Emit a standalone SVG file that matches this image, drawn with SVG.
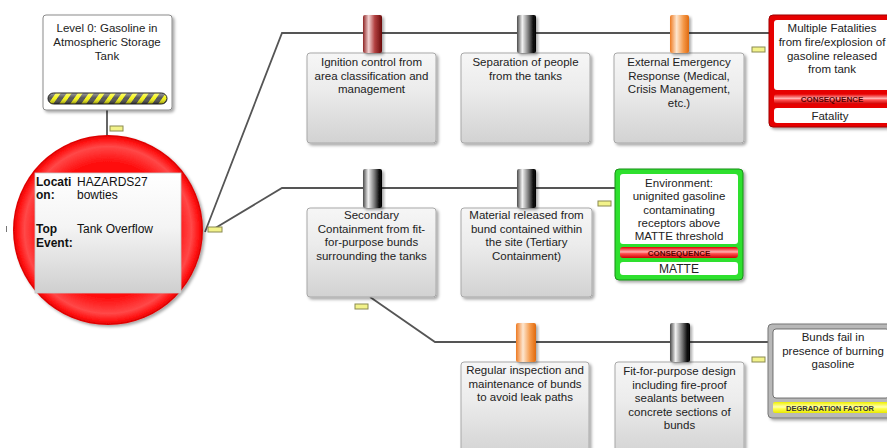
<svg xmlns="http://www.w3.org/2000/svg" width="887" height="448" viewBox="0 0 887 448">
<defs>
  <filter id="sh" x="-10%" y="-10%" width="130%" height="130%">
    <feDropShadow dx="2" dy="2" stdDeviation="1.5" flood-color="#000" flood-opacity="0.35"/>
  </filter>
  <linearGradient id="gBox" x1="0" y1="0" x2="0" y2="1">
    <stop offset="0" stop-color="#f6f6f6"/>
    <stop offset="0.4" stop-color="#ececec"/>
    <stop offset="1" stop-color="#d2d2d2"/>
  </linearGradient>
  <linearGradient id="gTop" x1="0" y1="0" x2="0" y2="1">
    <stop offset="0" stop-color="#ffffff"/>
    <stop offset="0.45" stop-color="#f4f4f4"/>
    <stop offset="1" stop-color="#cfcfcf"/>
  </linearGradient>
  <linearGradient id="cBlack" x1="0" y1="0" x2="1" y2="0">
    <stop offset="0" stop-color="#4a4a4a"/>
    <stop offset="0.28" stop-color="#f2f2f2"/>
    <stop offset="0.6" stop-color="#7a7a7a"/>
    <stop offset="0.85" stop-color="#111"/>
    <stop offset="1" stop-color="#000"/>
  </linearGradient>
  <linearGradient id="cRed" x1="0" y1="0" x2="1" y2="0">
    <stop offset="0" stop-color="#8e2424"/>
    <stop offset="0.3" stop-color="#f3d2d2"/>
    <stop offset="0.62" stop-color="#b24040"/>
    <stop offset="1" stop-color="#6a0c0c"/>
  </linearGradient>
  <linearGradient id="cOrange" x1="0" y1="0" x2="1" y2="0">
    <stop offset="0" stop-color="#ee7a22"/>
    <stop offset="0.35" stop-color="#fde6cf"/>
    <stop offset="0.7" stop-color="#f59a4a"/>
    <stop offset="1" stop-color="#e06a10"/>
  </linearGradient>
  <radialGradient id="gCircle" cx="0.5" cy="0.5" r="0.5">
    <stop offset="0" stop-color="#ff2020"/>
    <stop offset="0.7" stop-color="#ff0a0a"/>
    <stop offset="0.88" stop-color="#ff4848"/>
    <stop offset="0.96" stop-color="#ff1010"/>
    <stop offset="1" stop-color="#d80000"/>
  </radialGradient>
  <linearGradient id="gCons" x1="0" y1="0" x2="0" y2="1">
    <stop offset="0" stop-color="#e80000"/>
    <stop offset="0.45" stop-color="#ffb0b0"/>
    <stop offset="0.6" stop-color="#ff5050"/>
    <stop offset="1" stop-color="#d00000"/>
  </linearGradient>
  <linearGradient id="gDeg" x1="0" y1="0" x2="0" y2="1">
    <stop offset="0" stop-color="#f0f000"/>
    <stop offset="0.45" stop-color="#ffffb0"/>
    <stop offset="0.6" stop-color="#ffff50"/>
    <stop offset="1" stop-color="#e8e800"/>
  </linearGradient>
  <linearGradient id="gPill" x1="0" y1="0" x2="0" y2="1">
    <stop offset="0" stop-color="#fff" stop-opacity="0.5"/>
    <stop offset="0.45" stop-color="#fff" stop-opacity="0.1"/>
    <stop offset="1" stop-color="#000" stop-opacity="0.45"/>
  </linearGradient>
  <pattern id="stripes" patternUnits="userSpaceOnUse" width="11" height="12" patternTransform="skewX(-35)">
    <rect x="0" y="0" width="11" height="12" fill="#444"/>
    <rect x="0" y="0" width="5" height="12" fill="#f5f500"/>
  </pattern>
  <style>
    .t { font-family: "Liberation Sans", Arial, sans-serif; font-size: 11.5px; fill: #222; text-anchor: middle; }
    .tl { font-family: "Liberation Sans", Arial, sans-serif; font-size: 12px; fill: #111; }
    .b { font-weight: bold; }
    .bar { font-family: "Liberation Sans", Arial, sans-serif; font-size: 8px; font-weight: bold; text-anchor: middle; }
    .conn { fill: none; stroke: #555; stroke-width: 1.8; }
    .tag { fill: #f2f28a; stroke: #8a8a50; stroke-width: 1; }
    .barrier { fill: url(#gBox); stroke: #a8a8a8; stroke-width: 1; filter: url(#sh); }
  </style>
</defs>
<rect width="887" height="448" fill="#ffffff"/>

<g id="connectors">
  <line class="conn" x1="107" y1="110" x2="107" y2="138"/>
  <polyline class="conn" points="205,232 282,33 769,33"/>
  <polyline class="conn" points="212,230 282,188 615,188"/>
  <polyline class="conn" points="370,297 435,342 768,342"/>
  <rect class="tag" x="110" y="126" width="13" height="5"/>
  <rect class="tag" x="208" y="227" width="14" height="5"/>
  <rect class="tag" x="752" y="47" width="13" height="5"/>
  <rect class="tag" x="598" y="201" width="13" height="5"/>
  <rect class="tag" x="355" y="304" width="13" height="5"/>
  <rect class="tag" x="752" y="357" width="13" height="5"/>
  <line x1="6.5" y1="226" x2="6.5" y2="232" stroke="#777" stroke-width="1"/>
</g>

<g id="hazard">
  <rect x="43" y="15" width="129" height="95" rx="3" fill="#fff" stroke="#8a8a8a" stroke-width="1" filter="url(#sh)"/>
  <text class="t" x="107" y="32">Level 0: Gasoline in</text>
  <text class="t" x="107" y="46">Atmospheric Storage</text>
  <text class="t" x="107" y="59.5">Tank</text>
  <rect x="48" y="93" width="119" height="11" rx="5.5" fill="url(#stripes)"/>
  <rect x="48" y="93" width="119" height="11" rx="5.5" fill="url(#gPill)" stroke="#222" stroke-width="1"/>
</g>

<g id="top-event">
  <circle cx="108" cy="230" r="95" fill="url(#gCircle)" filter="url(#sh)"/>
  <rect x="35" y="173" width="146" height="120" fill="url(#gTop)" stroke="#c8c8c8" stroke-width="0.8"/>
  <text class="tl b" x="36" y="186">Locati</text>
  <text class="tl b" x="36" y="199">on:</text>
  <text class="tl" x="77" y="186">HAZARDS27</text>
  <text class="tl" x="77" y="199">bowties</text>
  <text class="tl b" x="36" y="233">Top</text>
  <text class="tl b" x="36" y="247">Event:</text>
  <text class="tl" x="77" y="233">Tank Overflow</text>
</g>

<g id="barrier-ignition">
  <rect class="barrier" x="307" y="53" width="129" height="90" rx="3"/>
  <rect x="363" y="15" width="19" height="38" rx="2" fill="url(#cRed)" filter="url(#sh)"/>
  <text class="t" x="371.5" y="66">Ignition control from</text>
  <text class="t" x="371.5" y="79.5">area classification and</text>
  <text class="t" x="371.5" y="93">management</text>
</g>

<g id="barrier-separation">
  <rect class="barrier" x="461" y="53" width="129" height="90" rx="3"/>
  <rect x="517" y="15" width="19" height="38" rx="2" fill="url(#cBlack)" filter="url(#sh)"/>
  <text class="t" x="525.5" y="66">Separation of people</text>
  <text class="t" x="525.5" y="79.5">from the tanks</text>
</g>

<g id="barrier-emergency">
  <rect class="barrier" x="614" y="53" width="130" height="90" rx="3"/>
  <rect x="670" y="15" width="19" height="38" rx="2" fill="url(#cOrange)" filter="url(#sh)"/>
  <text class="t" x="679" y="66">External Emergency</text>
  <text class="t" x="679" y="79.5">Response (Medical,</text>
  <text class="t" x="679" y="93">Crisis Management,</text>
  <text class="t" x="679" y="106.5">etc.)</text>
</g>

<g id="consequence-fatality">
  <rect x="769" y="15" width="126" height="112" rx="4" fill="#e60000" stroke="#a00000" stroke-width="1" filter="url(#sh)"/>
  <rect x="774" y="20" width="116" height="70" rx="3" fill="#fff"/>
  <text class="t" x="832" y="32">Multiple Fatalities</text>
  <text class="t" x="832" y="46">from fire/explosion of</text>
  <text class="t" x="832" y="59.5">gasoline released</text>
  <text class="t" x="832" y="73">from tank</text>
  <rect x="774" y="94" width="116" height="10" rx="3" fill="url(#gCons)"/>
  <text class="bar" x="832" y="102" fill="#5a0000">CONSEQUENCE</text>
  <rect x="774" y="108" width="116" height="15" rx="3" fill="#fff"/>
  <text class="t" x="830" y="119.5">Fatality</text>
</g>

<g id="barrier-secondary">
  <rect class="barrier" x="307" y="208" width="129" height="89" rx="3"/>
  <rect x="363" y="169" width="19" height="39" rx="2" fill="url(#cBlack)" filter="url(#sh)"/>
  <text class="t" x="371.5" y="219">Secondary</text>
  <text class="t" x="371.5" y="232.5">Containment from fit-</text>
  <text class="t" x="371.5" y="246">for-purpose bunds</text>
  <text class="t" x="371.5" y="259.5">surrounding the tanks</text>
</g>

<g id="barrier-tertiary">
  <rect class="barrier" x="461" y="208" width="131" height="89" rx="3"/>
  <rect x="517" y="169" width="19" height="39" rx="2" fill="url(#cBlack)" filter="url(#sh)"/>
  <text class="t" x="526.5" y="219">Material released from</text>
  <text class="t" x="526.5" y="232.5">bund contained within</text>
  <text class="t" x="526.5" y="246">the site (Tertiary</text>
  <text class="t" x="526.5" y="259.5">Containment)</text>
</g>

<g id="consequence-matte">
  <rect x="615" y="169" width="128" height="111" rx="4" fill="#2fe02f" stroke="#1a901a" stroke-width="1" filter="url(#sh)"/>
  <rect x="620" y="174" width="118" height="70" rx="3" fill="#fff"/>
  <text class="t" x="679" y="187">Environment:</text>
  <text class="t" x="679" y="200">unignited gasoline</text>
  <text class="t" x="679" y="213.5">contaminating</text>
  <text class="t" x="679" y="227">receptors above</text>
  <text class="t" x="679" y="240">MATTE threshold</text>
  <rect x="620" y="247" width="118" height="11" rx="3" fill="url(#gCons)"/>
  <text class="bar" x="679" y="255.5" fill="#5a0000">CONSEQUENCE</text>
  <rect x="620" y="262" width="118" height="13" rx="3" fill="#fff"/>
  <text class="t" x="679" y="273" style="font-size:12px">MATTE</text>
</g>

<g id="barrier-inspection">
  <rect class="barrier" x="461" y="362" width="128" height="95" rx="3"/>
  <rect x="516" y="323" width="20" height="39" rx="2" fill="url(#cOrange)" filter="url(#sh)"/>
  <text class="t" x="525" y="374">Regular inspection and</text>
  <text class="t" x="525" y="387.5">maintenance of bunds</text>
  <text class="t" x="525" y="401">to avoid leak paths</text>
</g>

<g id="barrier-design">
  <rect class="barrier" x="615" y="362" width="129" height="95" rx="3"/>
  <rect x="670" y="323" width="20" height="39" rx="2" fill="url(#cBlack)" filter="url(#sh)"/>
  <text class="t" x="679.5" y="375">Fit-for-purpose design</text>
  <text class="t" x="679.5" y="388.5">including fire-proof</text>
  <text class="t" x="679.5" y="402">sealants between</text>
  <text class="t" x="679.5" y="415.5">concrete sections of</text>
  <text class="t" x="679.5" y="429">bunds</text>
</g>

<g id="degradation-factor">
  <rect x="768" y="324" width="126" height="94" rx="4" fill="#b8b8b8" stroke="#777" stroke-width="1" filter="url(#sh)"/>
  <rect x="773" y="329" width="116" height="69" rx="3" fill="#fff" stroke="#555" stroke-width="0.8"/>
  <text class="t" x="833" y="341">Bunds fail in</text>
  <text class="t" x="833" y="354.5">presence of burning</text>
  <text class="t" x="833" y="368">gasoline</text>
  <rect x="773" y="402" width="116" height="11" rx="2" fill="url(#gDeg)"/>
  <text class="bar" x="830" y="410.5" fill="#333" style="font-size:7.5px">DEGRADATION FACTOR</text>
</g>
</svg>
